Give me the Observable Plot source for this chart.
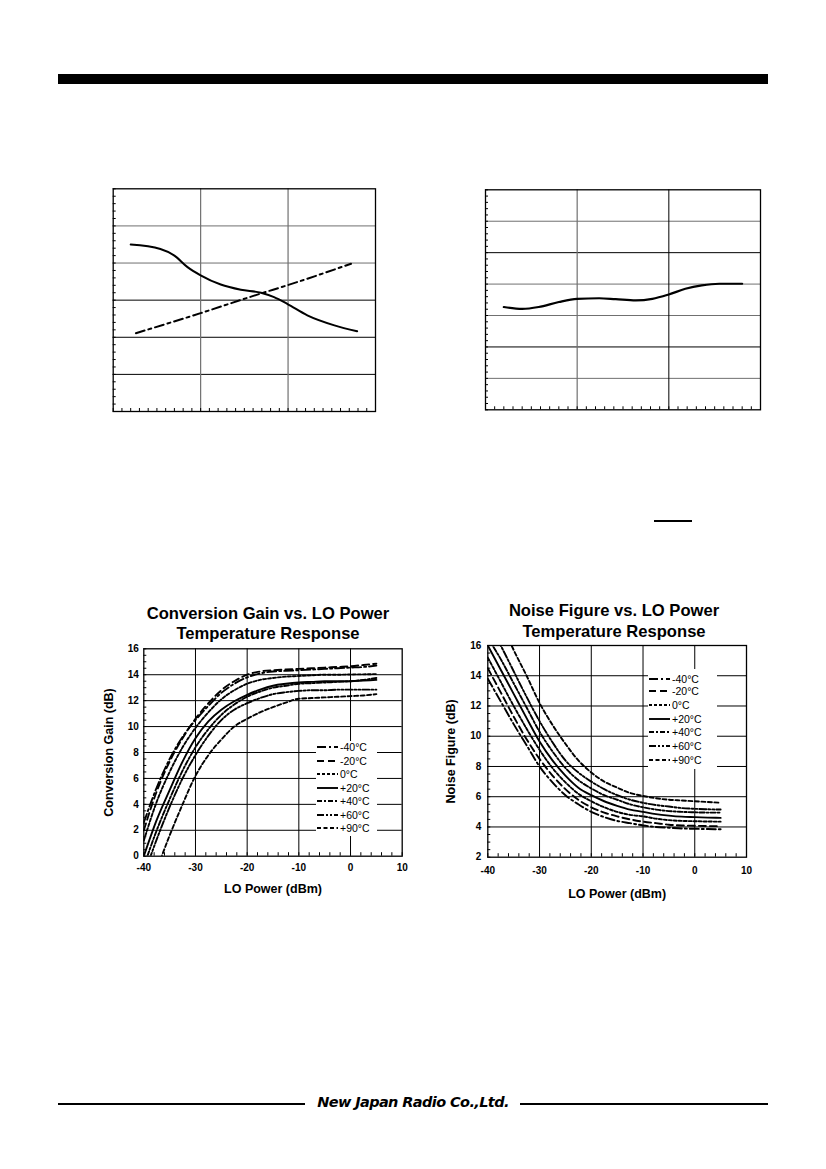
<!DOCTYPE html>
<html><head><meta charset="utf-8">
<script src="https://cdn.jsdelivr.net/npm/d3@7"></script>
<script src="https://cdn.jsdelivr.net/npm/@observablehq/plot@0.6"></script>
<style>
body{margin:0;background:#fff;}
#page{position:relative;width:826px;height:1169px;overflow:hidden;background:#fff;font-family:"Liberation Sans",Arial,sans-serif;color:#000;}
.abs{position:absolute;}
.title{position:absolute;font-weight:bold;font-size:16.6px;text-align:center;line-height:20px;white-space:nowrap;}
.legend{position:absolute;background:#fff;}
.legrow{position:absolute;left:0;height:12px;display:flex;align-items:center;font-size:10.5px;white-space:nowrap;}
.legrow svg{display:block;margin-right:2px;}
</style></head>
<body><div id="page"></div>
<script>
// ---------- data ----------
const loPower = [-40,-37.5,-35,-32.5,-30,-27.5,-25,-22.5,-20,-17.5,-15,-12.5,-10,-7.5,-5,-2.5,0,2.5,5];
const temps = ["-40°C","-20°C","0°C","+20°C","+40°C","+60°C","+90°C"];

// Conversion gain (dB) per temperature
const gainM40 = [2.6,5.3,7.5,9.2,10.5,11.6,12.6,13.3,13.8,14.1,14.25,14.3,14.35,14.4,14.45,14.5,14.55,14.6,14.7];
const gainM20 = [2.0,5.0,7.3,9.1,10.6,11.8,12.8,13.5,14.0,14.25,14.35,14.4,14.45,14.5,14.55,14.6,14.65,14.75,14.85];
const gainP0  = [1.2,4.2,6.5,8.4,9.9,11.1,12.1,12.8,13.3,13.6,13.75,13.85,13.9,13.95,14.0,14.0,14.02,14.03,14.05];
const gainP20 = [0.0,2.8,5.1,7.3,9.1,10.4,11.3,11.95,12.45,12.85,13.15,13.3,13.4,13.45,13.5,13.5,13.5,13.55,13.6];
const gainP40 = [-0.8,2.0,4.4,6.6,8.4,9.8,10.9,11.7,12.3,12.7,13.0,13.15,13.3,13.35,13.4,13.45,13.5,13.6,13.75];
const gainP60 = [-1.5,1.3,3.8,6.0,7.8,9.3,10.5,11.3,11.8,12.2,12.5,12.65,12.75,12.8,12.8,12.85,12.85,12.85,12.85];
const gainP90 = [-3.5,-1.0,1.6,4.0,6.2,7.8,9.0,10.0,10.6,11.1,11.5,11.85,12.15,12.2,12.25,12.3,12.35,12.4,12.5];

// Noise figure (dB) per temperature
const nfM40 = [13.8,12.3,10.8,9.4,8.0,6.95,6.1,5.5,5.0,4.65,4.4,4.25,4.1,4.0,3.95,3.9,3.88,3.86,3.85];
const nfM20 = [14.5,12.9,11.3,9.8,8.5,7.4,6.5,5.8,5.3,4.95,4.7,4.5,4.35,4.25,4.15,4.1,4.08,4.06,4.05];
const nfP0  = [15.2,13.6,12.0,10.5,9.1,7.9,6.95,6.2,5.7,5.3,5.0,4.8,4.7,4.55,4.45,4.4,4.38,4.36,4.35];
const nfP20 = [16.0,14.4,12.8,11.2,9.65,8.4,7.4,6.6,6.1,5.7,5.4,5.15,5.0,4.85,4.75,4.68,4.65,4.62,4.6];
const nfP40 = [16.5,15.1,13.5,11.9,10.3,9.0,7.9,7.1,6.55,6.1,5.8,5.5,5.3,5.15,5.05,5.0,4.97,4.95,4.95];
const nfP60 = [17.6,16.0,14.3,12.6,11.0,9.6,8.4,7.6,7.0,6.5,6.1,5.8,5.6,5.45,5.35,5.25,5.2,5.17,5.15];
const nfP90 = [19.0,17.6,15.7,14.0,12.2,10.75,9.5,8.4,7.6,7.0,6.6,6.25,6.05,5.9,5.8,5.75,5.7,5.65,5.6];

const xTickLabels = [-40,-30,-20,-10,0,10];
const gainTickLabels = [0,2,4,6,8,10,12,14,16];
const nfTickLabels = [2,4,6,8,10,12,14,16];

// upper (unlabelled) charts
const upLeftX      = [2.0,5.4,7.0,8.5,10.0,12.3,14.6,16.9,18.4,19.9,22.2,25.3,27.9];
const upLeftSolid  = [45.0,43.8,42.0,38.9,36.7,34.2,32.8,32.0,30.8,29.0,25.9,23.2,21.6];
const upLeftDashX  = [2.6,10.0,16.9,19.9,27.2];
const upLeftDash   = [21.1,26.5,31.8,34.0,39.8];
const upRightX     = [2.0,4.0,5.8,8.0,10.0,12.4,14.2,16.4,18.2,20.0,21.8,23.6,25.5,28.0];
const upRightY     = [32.7,32.1,32.7,34.3,35.3,35.5,35.2,34.8,35.3,36.7,38.5,39.6,40.1,40.1];

// ---------- styles ----------
const dashes = ["9,3,2,3","7,4","3,2",null,"5,2,2,2","7,2,2,2,2,2","4,2.5"];
const gainSeries = [gainM40,gainM20,gainP0,gainP20,gainP40,gainP60,gainP90];
const nfSeries = [nfM40,nfM20,nfP0,nfP20,nfP40,nfP60,nfP90];

const page = document.getElementById("page");
function place(el, left, top) {
  const d = document.createElement("div");
  d.className = "abs"; d.style.left = left + "px"; d.style.top = top + "px";
  d.appendChild(el); page.appendChild(d); return d;
}
function div(cls, css, text) {
  const d = document.createElement("div");
  if (cls) d.className = cls;
  d.style.cssText = css;
  if (text != null) d.textContent = text;
  page.appendChild(d); return d;
}

const fontStyle = {fontFamily: "'Liberation Sans', Arial, sans-serif", fontWeight: "bold", fontSize: "10px", background: "transparent", color: "black", overflow: "visible"};

function tempChart(series, yDomain, yTicks, yLabel, m) {
  const lines = series.map((vals, i) => Plot.line(
    loPower.map((x, j) => ({x, y: vals[j]})),
    {x: "x", y: "y", curve: "monotone-x", stroke: "black", strokeWidth: 1.9, strokeDasharray: dashes[i], clip: true}
  ));
  return Plot.plot({
    width: m.width, height: m.height,
    marginLeft: m.left, marginRight: m.right, marginTop: m.top, marginBottom: m.bottom,
    x: {domain: [-40, 10]},
    y: {domain: yDomain},
    style: fontStyle,
    marks: [
      Plot.gridX({ticks: xTickLabels.slice(1, -1), stroke: "black", strokeOpacity: 1, strokeWidth: 1}),
      Plot.gridY({ticks: yTicks.slice(1, -1), stroke: "black", strokeOpacity: 1, strokeWidth: 1}),
      Plot.axisX({ticks: d3.range(-40, 10.001, 2), tickSize: -3.5, tickFormat: () => "", label: null}),
      Plot.axisY({ticks: d3.range(yDomain[0], yDomain[1] + 0.001, 0.5), tickSize: -3, tickFormat: () => "", label: null}),
      Plot.axisX({ticks: xTickLabels, tickSize: 0, tickPadding: m.xpad, tickFormat: d => String(d), label: null}),
      Plot.axisY({ticks: yTicks, tickSize: 0, tickPadding: m.ypad, tickFormat: d => String(d), label: null}),
      Plot.axisX({ticks: [], label: "LO Power (dBm)", labelAnchor: "center", labelArrow: "none", labelOffset: m.xlab, fontSize: 12.5}),
      Plot.axisY({ticks: [], label: yLabel, labelAnchor: "center", labelArrow: "none", labelOffset: m.ylab, fontSize: 12.5}),
      ...lines,
      Plot.frame({stroke: "black", strokeWidth: 1.3})
    ]
  });
}

function legend(left, top, w, h, rowTops) {
  const box = div("legend", `left:${left}px;top:${top}px;width:${w}px;height:${h}px;`);
  temps.forEach((t, i) => {
    const r = document.createElement("div");
    r.className = "legrow";
    r.style.top = rowTops[i] + "px";
    const svgNS = "http://www.w3.org/2000/svg";
    const s = document.createElementNS(svgNS, "svg");
    s.setAttribute("width", 22); s.setAttribute("height", 12);
    const l = document.createElementNS(svgNS, "line");
    l.setAttribute("x1", 1); l.setAttribute("x2", 22); l.setAttribute("y1", 6); l.setAttribute("y2", 6);
    l.setAttribute("stroke", "black"); l.setAttribute("stroke-width", 1.9);
    if (dashes[i]) l.setAttribute("stroke-dasharray", dashes[i]);
    s.appendChild(l); r.appendChild(s);
    const sp = document.createElement("span"); sp.textContent = t; r.appendChild(sp);
    box.appendChild(r);
  });
}

// ---------- header / footer ----------
div("", "position:absolute;left:58px;top:74px;width:710px;height:10px;background:#000;");
div("", "position:absolute;left:58px;top:1103px;width:247px;height:1.5px;background:#000;");
div("", "position:absolute;left:520px;top:1103px;width:248px;height:1.5px;background:#000;");
div("", "position:absolute;left:308px;top:1094px;width:210px;text-align:center;font-family:'DejaVu Sans',sans-serif;font-style:italic;font-weight:bold;font-size:14.5px;letter-spacing:-0.6px;white-space:nowrap;", "New Japan Radio Co.,Ltd.");
div("", "position:absolute;left:654px;top:520px;width:38px;height:1.5px;background:#000;");

// ---------- upper charts ----------
function upperChart(m, yMax, hBlack, hGray, vBlack, vGray, marks) {
  return Plot.plot({
    width: m.width, height: m.height,
    marginLeft: m.left, marginRight: m.right, marginTop: m.top, marginBottom: m.bottom,
    x: {domain: [0, 30]}, y: {domain: [0, yMax]},
    style: fontStyle,
    marks: [
      Plot.gridY({ticks: hGray, stroke: "#707070", strokeOpacity: 1, strokeWidth: 1}),
      Plot.gridY({ticks: hBlack, stroke: "black", strokeOpacity: 1, strokeWidth: 1}),
      Plot.gridX({ticks: vGray, stroke: "#707070", strokeOpacity: 1, strokeWidth: 1.2}),
      Plot.gridX({ticks: vBlack, stroke: "black", strokeOpacity: 1, strokeWidth: 1}),
      Plot.axisX({ticks: d3.range(0, 30.001, 1), tickSize: -3, tickFormat: () => "", label: null}),
      Plot.axisY({ticks: d3.range(0, yMax + 0.001, 2), tickSize: -3, tickFormat: () => "", label: null}),
      ...marks,
      Plot.frame({stroke: "black", strokeWidth: 1.3})
    ]
  });
}

const upLeft = upperChart({width: 280, height: 240, left: 7.7, right: 10, top: 8.3, bottom: 9}, 60,
  [10, 20, 30], [40, 50], [], [10, 20], [
    Plot.line(upLeftX.map((x, i) => ({x, y: upLeftSolid[i]})), {x: "x", y: "y", curve: "monotone-x", stroke: "black", strokeWidth: 2}),
    Plot.line(upLeftDashX.map((x, i) => ({x, y: upLeftDash[i]})), {x: "x", y: "y", curve: "monotone-x", stroke: "black", strokeWidth: 2, strokeDasharray: "9,4,3,4"})
  ]);
place(upLeft, 105, 180);

const upRight = upperChart({width: 293, height: 238, left: 8, right: 10, top: 8.3, bottom: 9.7}, 70,
  [20, 50], [10, 30, 40, 60], [20], [10], [
    Plot.line(upRightX.map((x, i) => ({x, y: upRightY[i]})), {x: "x", y: "y", curve: "monotone-x", stroke: "black", strokeWidth: 2.2})
  ]);
place(upRight, 477, 181);

// ---------- lower charts ----------
div("title", "left:118px;top:604px;width:300px;", "Conversion Gain vs. LO Power");
div("title", "left:118px;top:624px;width:300px;", "Temperature Response");
div("title", "left:464px;top:601px;width:300px;", "Noise Figure vs. LO Power");
div("title", "left:464px;top:622px;width:300px;", "Temperature Response");

const cg = tempChart(gainSeries, [0, 16], gainTickLabels, "Conversion Gain (dB)",
  {width: 320, height: 260, left: 50.3, right: 11.3, top: 8.3, bottom: 44.3, xpad: 8, ypad: 5, xlab: 37, ylab: 40});
place(cg, 93, 640);

const nf = tempChart(nfSeries, [2, 16], nfTickLabels, "Noise Figure (dB)",
  {width: 320, height: 268, left: 50.3, right: 11, top: 8, bottom: 48.3, xpad: 10, ypad: 6.5, xlab: 41, ylab: 42});
place(nf, 437, 637);

legend(316, 741, 61, 95, [0, 13.5, 27, 40.5, 54, 67.5, 81]);
legend(648, 669, 69, 100, [4, 16, 30, 43.5, 57, 71, 85]);
</script>
</body></html>
